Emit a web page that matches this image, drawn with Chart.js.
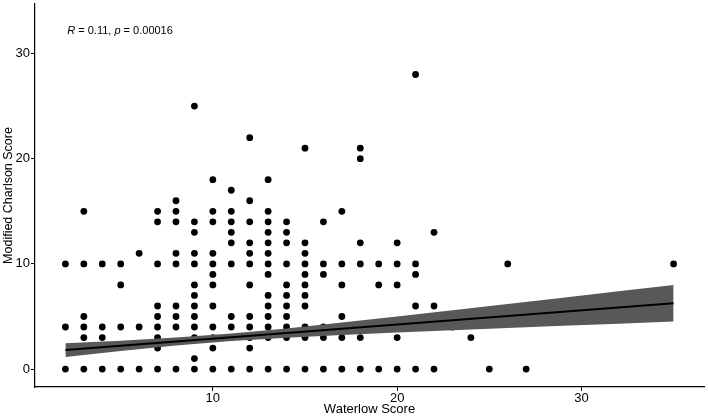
<!DOCTYPE html>
<html>
<head>
<meta charset="utf-8">
<script src="https://cdn.jsdelivr.net/npm/chart.js@4/dist/chart.umd.min.js"></script>
<style>
  html, body { margin: 0; padding: 0; background: #fff; }
  #chart { display: block; }
</style>
</head>
<body>
<canvas id="chart" width="708" height="418"></canvas>
<script>
// Waterlow score (x) and the Charlson scores seen at each one (y)
const waterlow = [2, 3, 4, 5, 6, 7, 8, 9, 10, 11, 12, 13, 14, 15, 16, 17, 18, 19, 20, 21, 22, 23, 24, 25, 26, 27, 35];
const charlson = [
    [0, 4, 10],
    [0, 3, 4, 5, 10, 15],
    [0, 3, 4, 10],
    [0, 4, 8, 10],
    [0, 4, 11],
    [0, 2, 3, 4, 5, 6, 10, 14, 15],
    [0, 4, 5, 6, 10, 11, 14, 15, 16],
    [0, 1, 3, 4, 5, 6, 7, 8, 10, 11, 13, 14, 25],
    [0, 2, 3, 4, 6, 8, 9, 10, 11, 14, 15, 18],
    [0, 3, 4, 5, 10, 12, 13, 14, 15, 17],
    [0, 2, 3, 4, 5, 8, 10, 11, 12, 14, 16, 22],
    [0, 3, 4, 5, 6, 7, 9, 10, 11, 12, 13, 14, 15, 18],
    [0, 3, 4, 5, 6, 7, 8, 10, 12, 13, 14],
    [0, 3, 4, 6, 7, 8, 9, 10, 11, 12, 21],
    [0, 3, 4, 9, 10, 14],
    [0, 3, 4, 5, 8, 10, 15],
    [0, 3, 4, 10, 12, 20, 21],
    [0, 4, 8, 10],
    [0, 3, 4, 8, 10, 12],
    [0, 4, 6, 9, 10, 28],
    [0, 4, 6, 13],
    [4],
    [3],
    [0],
    [10],
    [0],
    [10]
];

// regression line and its confidence band
const fitX = [2, 35];
const fitY = [1.81, 6.26];
const bandX = [2, 5, 8, 11, 14, 17, 20, 23, 26, 29, 32, 35];
const bandLow = [1.16, 1.72, 2.25, 2.66, 2.99, 3.24, 3.47, 3.69, 3.90, 4.11, 4.31, 4.52];
const bandHigh = [2.46, 2.70, 3.00, 3.38, 3.87, 4.42, 5.00, 5.59, 6.19, 6.79, 7.39, 8.00];

const xTicks = [10, 20, 30];
const yTicks = [0, 10, 20, 30];
const corLabel = { r: '0.11', p: '0.00016' };

const FONT = "'Liberation Sans', Arial, Helvetica, sans-serif";

// monter os pontos
const points = [];
waterlow.forEach((x, i) => {
    charlson[i].forEach(y => points.push({ x: x, y: y }));
});
const fitLine = fitX.map((x, i) => ({ x: x, y: fitY[i] }));
const lowLine = bandX.map((x, i) => ({ x: x, y: bandLow[i] }));
const highLine = bandX.map((x, i) => ({ x: x, y: bandHigh[i] }));

// texto R / p no canto superior
const corPlugin = {
    id: 'corLabel',
    afterDraw(chart) {
        const ctx = chart.ctx;
        const xs = chart.scales.x, ys = chart.scales.y;
        let px = xs.getPixelForValue(2.1);
        const py = ys.getPixelForValue(32.1);
        const parts = [
            ['italic', 'R'], ['normal', ' = ' + corLabel.r + ', '],
            ['italic', 'p'], ['normal', ' = ' + corLabel.p]
        ];
        ctx.save();
        ctx.fillStyle = '#000';
        ctx.textBaseline = 'middle';
        ctx.textAlign = 'left';
        parts.forEach(([style, txt]) => {
            ctx.font = style + ' 11px ' + FONT;
            ctx.fillText(txt, px, py);
            px += ctx.measureText(txt).width;
        });
        ctx.restore();
    }
};

const axisCommon = {
    type: 'linear',
    grid: { display: true, drawOnChartArea: false, drawTicks: true, tickLength: 4, tickWidth: 1, tickColor: '#000' },
    border: { display: true, color: '#000', width: 1.2 },
    ticks: { color: '#000', font: { family: FONT, size: 13 } }
};

// sem margem extra das etiquetas
function noPad(s) {
    s.paddingTop = 0; s.paddingBottom = 0; s.paddingLeft = 0; s.paddingRight = 0;
}

new Chart(document.getElementById('chart').getContext('2d'), {
    type: 'scatter',
    data: {
        datasets: [
            {
                data: fitLine, showLine: true, borderColor: '#000', borderWidth: 2,
                pointRadius: 0, fill: false
            },
            {
                data: lowLine, showLine: true, borderWidth: 0, borderColor: 'rgba(0,0,0,0)',
                pointRadius: 0, fill: false
            },
            {
                data: highLine, showLine: true, borderWidth: 0, borderColor: 'rgba(0,0,0,0)',
                pointRadius: 0, fill: 1, backgroundColor: '#585858'
            },
            {
                data: points, pointRadius: 3.4, pointBackgroundColor: '#000',
                pointBorderWidth: 0, pointBorderColor: '#000'
            }
        ]
    },
    options: {
        responsive: false,
        animation: false,
        layout: { padding: 0 },
        plugins: { legend: { display: false }, tooltip: { enabled: false } },
        scales: {
            x: Object.assign({}, axisCommon, {
                min: 0.35, max: 36.65,
                ticks: Object.assign({}, axisCommon.ticks, { padding: 0, maxRotation: 0 }),
                afterBuildTicks: s => { s.ticks = xTicks.map(v => ({ value: v })); },
                afterFit: s => { s.height = 31; noPad(s); },
                title: { display: true, text: 'Waterlow Score', color: '#000', font: { family: FONT, size: 13 }, padding: { top: 0, bottom: 1 } }
            }),
            y: Object.assign({}, axisCommon, {
                min: -1.7, max: 34.7,
                ticks: Object.assign({}, axisCommon.ticks, { padding: 1 }),
                afterBuildTicks: s => { s.ticks = yTicks.map(v => ({ value: v })); },
                afterFit: s => { s.width = 35; noPad(s); },
                title: { display: true, text: 'Modified Charlson Score', color: '#000', font: { family: FONT, size: 12.5 }, padding: { top: 1, bottom: 0 } }
            })
        }
    },
    plugins: [corPlugin]
});
</script>
</body>
</html>
